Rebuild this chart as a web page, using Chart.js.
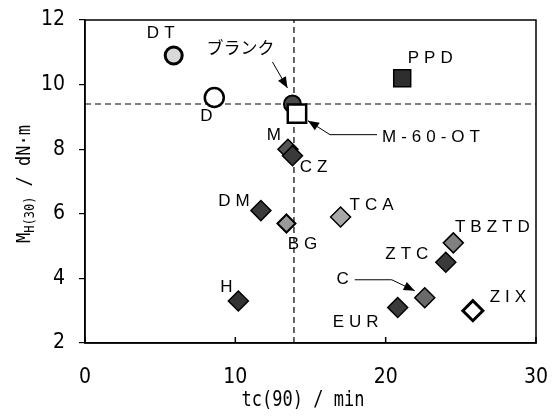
<!DOCTYPE html>
<html>
<head>
<meta charset="utf-8">
<script src="https://cdn.jsdelivr.net/npm/chart.js@4.4.1/dist/chart.umd.min.js"></script>
<style>
  html,body{margin:0;padding:0;background:#fff;}
  #wrap{width:556px;height:417px;}
</style>
</head>
<body>
<div id="wrap"><canvas id="chart" width="556" height="417"></canvas></div>
<script>
/* data */
const names = ["DT","D","ブランク","M-60-OT","PPD","M","CZ","DM","BG","TCA","H","TBZTD","ZTC","C","EUR","ZIX"];
const tc90  = [5.9, 8.6, 13.8, 14.1, 21.1, 13.5, 13.8, 11.7, 13.4, 17.0, 10.2, 24.5, 24.0, 22.6, 20.8, 25.8];
const mh30  = [10.9, 9.6, 9.4, 9.1, 10.2, 8.0, 7.8, 6.1, 5.7, 5.9, 3.3, 5.1, 4.5, 3.4, 3.1, 3.0];
const blankX = 13.9;
const blankY = 9.4;
const xTicks = [0, 10, 20, 30];
const yTicks = [2, 4, 6, 8, 10, 12];

/* styles */
const look = {
  "DT":      {shape:"circle", r:8.5, fill:"#d8d8d8", bw:3},
  "D":       {shape:"circle", r:9.5, fill:"#ffffff", bw:2.5},
  "ブランク": {shape:"circle", r:8.5, fill:"#4a4a4a", bw:2},
  "M-60-OT": {shape:"rect",   r:13,  fill:"#ffffff", bw:2.5},
  "PPD":     {shape:"rect",   r:12,  fill:"#2e2e2e", bw:1.5},
  "M":       {shape:"rectRot",r:10,  fill:"#555555", bw:1.5},
  "CZ":      {shape:"rectRot",r:10,  fill:"#3a3a3a", bw:1.5},
  "DM":      {shape:"rectRot",r:10,  fill:"#3a3a3a", bw:1.5},
  "BG":      {shape:"rectRot",r:9,   fill:"#9a9a9a", bw:2},
  "TCA":     {shape:"rectRot",r:10,  fill:"#a8a8a8", bw:1.5},
  "H":       {shape:"rectRot",r:10,  fill:"#333333", bw:1.5},
  "TBZTD":   {shape:"rectRot",r:10,  fill:"#808080", bw:1.5},
  "ZTC":     {shape:"rectRot",r:10,  fill:"#3a3a3a", bw:1.5},
  "C":       {shape:"rectRot",r:10,  fill:"#6a6a6a", bw:1.5},
  "EUR":     {shape:"rectRot",r:10,  fill:"#3a3a3a", bw:1.5},
  "ZIX":     {shape:"rectRot",r:10,  fill:"#ffffff", bw:3}
};
// label offsets from the point, px
const labelOff = {
  "DT":[-13,-22], "D":[-8,19], "ブランク":[-52,-56], "M-60-OT":[134,24], "PPD":[28,-20],
  "M":[-14,-14], "CZ":[21,12], "DM":[-27,-9], "BG":[16,21], "TCA":[31,-12],
  "H":[-12,-14], "TBZTD":[39,-16], "ZTC":[-39,-8], "C":[-82,-18], "EUR":[-42,15], "ZIX":[35,-13]
};

const pts = names.map((n,i)=>({x:tc90[i], y:mh30[i], name:n}));

const labFont = "17px 'Liberation Sans', Arial, sans-serif";
const monoFont = "'DejaVu Sans Mono', 'Liberation Mono', monospace";

const annot = {
  id:"annot",
  afterDatasetsDraw(chart){
    const c = chart.ctx, a = chart.chartArea;
    const sx = chart.scales.x, sy = chart.scales.y;
    c.save();
    // frame
    c.strokeStyle = "#000"; c.lineWidth = 1.5;
    c.strokeRect(a.left, a.top, a.right-a.left, a.bottom-a.top);
    // inward x ticks
    xTicks.forEach(v=>{
      const px = sx.getPixelForValue(v);
      c.beginPath(); c.moveTo(px, a.bottom); c.lineTo(px, a.bottom-6); c.stroke();
    });
    // point labels
    c.fillStyle = "#000";
    c.textAlign = "center"; c.textBaseline = "middle";
    pts.forEach(p=>{
      const px = sx.getPixelForValue(p.x), py = sy.getPixelForValue(p.y);
      const o = labelOff[p.name];
      if(p.name==="ブランク"){
        c.letterSpacing = "0px";
        c.font = "17px 'Noto Sans CJK JP', sans-serif";
        c.fillText(p.name, px+o[0], py+o[1]);
        arrow(c, [[px-20, py-42],[px-5, py-16]]);
      }else{
        c.font = labFont;
        c.letterSpacing = "5px";
        c.fillText(p.name, px+o[0]+2.5, py+o[1]);
      }
      if(p.name==="M-60-OT") arrow(c, [[px+80, py+21],[px+33, py+21],[px+11, py+7]]);
      if(p.name==="C") arrow(c, [[px-70, py-18],[px-33, py-18],[px-10, py-7]]);
    });
    c.letterSpacing = "0px";
    // axis titles (mono font, stretched a bit taller)
    c.font = "17px " + monoFont;
    c.textAlign = "center"; c.textBaseline = "middle";
    c.save();
    c.translate(303, 401); c.scale(1, 1.2);
    c.fillText("tc(90) / min", 0, 0);
    c.restore();
    c.translate(25, 184);
    c.rotate(-Math.PI/2);
    c.scale(1, 1.15);
    c.textAlign = "left";
    const f1 = "17px " + monoFont;
    const f2 = "12px " + monoFont;
    c.font = f1; const w1 = c.measureText("M").width;
    c.font = f2; const w2 = c.measureText("H(30)").width;
    c.font = f1; const w3 = c.measureText(" / dN·m").width;
    let x0 = -(w1+w2+w3)/2;
    c.fillText("M", x0, 0); x0 += w1;
    c.font = f2; c.fillText("H(30)", x0, 5); x0 += w2;
    c.font = f1; c.fillText(" / dN·m", x0, 0);
    c.restore();
  }
};

function arrow(c, path){
  c.save();
  c.strokeStyle = "#000"; c.fillStyle = "#000"; c.lineWidth = 1;
  c.beginPath();
  c.moveTo(path[0][0], path[0][1]);
  for(let i=1;i<path.length;i++) c.lineTo(path[i][0], path[i][1]);
  c.stroke();
  const [x1,y1] = path[path.length-2], [x2,y2] = path[path.length-1];
  const ang = Math.atan2(y2-y1, x2-x1), L = 11, W = 4.5;
  c.beginPath();
  c.moveTo(x2, y2);
  c.lineTo(x2 - L*Math.cos(ang) + W*Math.sin(ang), y2 - L*Math.sin(ang) - W*Math.cos(ang));
  c.lineTo(x2 - L*Math.cos(ang) - W*Math.sin(ang), y2 - L*Math.sin(ang) + W*Math.cos(ang));
  c.closePath(); c.fill();
  c.restore();
}

const tickFont = {family:"'Liberation Sans Narrow', 'DejaVu Sans Condensed', 'Arial Narrow', sans-serif", size:21};

new Chart(document.getElementById("chart"), {
  type:"scatter",
  data:{
    datasets:[
      {
        type:"line", data:[{x:blankX,y:2},{x:blankX,y:12}],
        borderColor:"#000", borderWidth:1.2, borderDash:[6,4], pointRadius:0, order:2
      },
      {
        type:"line", data:[{x:0,y:blankY},{x:30,y:blankY}],
        borderColor:"#000", borderWidth:1.2, borderDash:[6,4], pointRadius:0, order:2
      },
      {
        data:pts, order:1,
        pointStyle:pts.map(p=>look[p.name].shape),
        pointRadius:pts.map(p=>look[p.name].r),
        pointHoverRadius:pts.map(p=>look[p.name].r),
        backgroundColor:pts.map(p=>look[p.name].fill),
        borderColor:"#000",
        borderWidth:pts.map(p=>look[p.name].bw)
      }
    ]
  },
  options:{
    responsive:false, animation:false,
    layout:{padding:{top:20, right:20, left:0, bottom:0}},
    plugins:{legend:{display:false}, tooltip:{enabled:false}},
    scales:{
      x:{
        type:"linear", min:0, max:30,
        afterBuildTicks:s=>{ s.ticks = xTicks.map(v=>({value:v})); },
        afterFit:s=>{ s.height = 74; s.paddingLeft = 0; s.paddingRight = 0; },
        grid:{drawOnChartArea:false, drawTicks:false},
        border:{color:"#000", width:1.5},
        ticks:{color:"#000", font:tickFont, padding:22, maxRotation:0}
      },
      y:{
        type:"linear", min:2, max:12,
        afterBuildTicks:s=>{ s.ticks = yTicks.map(v=>({value:v})); },
        afterFit:s=>{ s.width = 85; s.paddingTop = 0; s.paddingBottom = 0; },
        grid:{drawOnChartArea:false, drawTicks:true, tickLength:6, color:"#000", lineWidth:1.2},
        border:{color:"#000", width:1.5},
        ticks:{color:"#000", font:tickFont, padding:14}
      }
    }
  },
  plugins:[annot]
});
</script>
</body>
</html>
